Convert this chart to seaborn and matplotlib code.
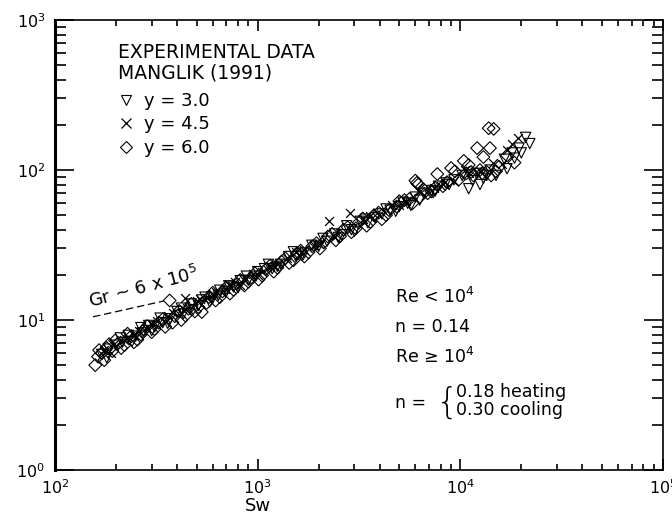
import pandas as pd
import matplotlib
matplotlib.use("Agg")
import matplotlib.pyplot as plt
import seaborn as sns
from matplotlib.lines import Line2D
from matplotlib.ticker import LogLocator, NullFormatter

tri_sw = [170, 185, 200, 215, 230, 250, 270, 290, 310, 340, 370, 400, 430, 470,
          510, 550, 600, 650, 700, 760, 820, 900, 980, 1080, 1180, 1300, 1420,
          1550, 1700, 1850, 2000, 2200, 2400, 2600, 2900, 3200, 3500, 3800, 4100,
          4500, 5000, 5500, 6000, 6600, 7200, 7800, 8500, 9300, 10200, 11000,
          12000, 13000, 14000, 15000, 16500, 18000, 19500, 21000, 22000,
          180, 210, 240, 265, 300, 330, 360, 420, 480, 530, 580, 640, 720, 800,
          880, 1000, 1130, 1250, 1500, 1650, 2100, 2500, 2750, 3000, 3400, 4300,
          4800, 5200, 5700, 6300, 7500, 8800, 11500, 12500, 13500, 17000, 18500, 20000]
tri_nu = [5.9, 6.4, 6.8, 7.1, 7.9, 7.8, 8.2, 9.2, 9.0, 9.6, 10.2, 11.4, 11.0, 12.8,
          12.5, 14.2, 14.0, 15.8, 15.5, 16.6, 18.3, 18.4, 19.6, 22.0, 22.0, 23.5, 26.5,
          26.4, 28.0, 31.5, 31.0, 33.5, 37.5, 37.0, 40.0, 45.5, 44.5, 48.0, 51.0,
          54.0, 57.0, 60.0, 66.0, 70.0, 73.0, 78.0, 82.0, 86.0, 92.0, 75.0,
          95.0, 88.0, 100.0, 92.0, 118.0, 130.0, 140.0, 165.0, 150.0,
          5.6, 7.6, 7.2, 8.9, 8.5, 10.3, 9.5, 12.0, 11.7, 13.6, 13.2, 14.6, 16.9, 16.4,
          19.6, 21.0, 23.5, 22.8, 28.5, 27.0, 35.0, 35.5, 42.5, 39.0, 47.0, 55.0,
          53.0, 61.0, 58.0, 63.0, 72.0, 80.0, 85.0, 80.0, 92.0, 102.0, 120.0, 130.0]

cross_sw = [175, 195, 220, 245, 280, 320, 360, 437, 450, 500, 560, 620, 690, 770,
            860, 950, 1050, 1150, 1270, 1400, 1550, 1700, 1900, 2260, 2870, 3300,
            3900, 4600, 5400, 6300, 7400, 8400, 9300, 10500, 12500, 14500, 17000, 19300,
            190, 230, 260, 300, 380, 420, 520, 600, 720, 820, 1000, 1200, 1600, 2000,
            2400, 3600, 5000, 7000, 8000, 11000, 16000, 18000]
cross_nu = [6.3, 6.9, 7.4, 8.0, 8.9, 9.8, 10.6, 14.0, 12.0, 13.4, 14.0, 15.4, 16.2, 17.8,
            18.6, 20.4, 21.0, 23.0, 24.0, 26.0, 28.5, 29.5, 31.5, 46.0, 52.0, 47.0,
            52.0, 58.0, 62.0, 72.0, 76.0, 83.0, 85.0, 100.0, 98.0, 112.0, 135.0, 163.0,
            6.0, 7.7, 8.4, 9.4, 11.2, 11.2, 13.8, 15.0, 17.0, 17.2, 20.0, 23.0, 27.3, 32.0,
            36.0, 49.0, 58.0, 70.0, 78.0, 96.0, 110.0, 150.0]

dia_sw = [158, 163, 170, 180, 192, 205, 220, 238, 255, 275, 300, 325, 350, 368,
          390, 420, 455, 490, 530, 575, 620, 670, 730, 790, 860, 930, 1010, 1100,
          1200, 1310, 1430, 1560, 1700, 1860, 2030, 2220, 2430, 2650, 2900, 3150,
          3450, 3750, 4100, 4450, 4850, 5300, 5800, 6100, 6300, 6900, 7500, 7700,
          8200, 9000, 9800, 10400, 10700, 11600, 12100, 12500, 13500, 13800, 14000,
          14600, 15500, 17000, 18500,
          165, 175, 185, 198, 212, 228, 245, 265, 285, 310, 340, 380, 410, 440,
          470, 510, 560, 600, 650, 700, 760, 820, 900, 970, 1050, 1150, 1250, 1370,
          1500, 1630, 1780, 1950, 2120, 2330, 2550, 2780, 3050, 3300, 3600, 3950,
          4300, 5000, 5600, 6000, 6200, 6600, 7200, 8600, 9400, 11000, 11300, 12800,
          13000, 14200, 15000]
dia_nu = [5.0, 5.7, 6.0, 6.5, 6.2, 7.0, 6.8, 7.8, 7.4, 8.6, 8.3, 9.6, 9.0, 13.5,
          10.6, 10.0, 11.9, 11.4, 11.3, 14.2, 13.5, 15.5, 15.0, 17.4, 17.0, 19.2, 18.6, 21.8,
          21.0, 24.5, 24.0, 27.8, 26.5, 31.0, 30.0, 36.0, 34.0, 40.0, 38.5, 44.5,
          42.5, 50.0, 47.0, 54.0, 57.0, 63.0, 60.0, 82.0, 66.0, 70.0, 76.0, 94.0,
          78.0, 103.0, 86.0, 115.0, 95.0, 92.0, 140.0, 100.0, 97.0, 190.0, 140.0,
          188.0, 105.0, 125.0, 112.0,
          6.3, 5.4, 6.9, 7.3, 6.5, 8.1, 7.1, 8.0, 9.1, 8.7, 10.1, 9.6, 11.5, 10.7,
          12.8, 12.2, 13.0, 15.2, 14.2, 16.5, 15.9, 18.5, 18.0, 20.5, 19.8, 23.0, 22.3, 25.8,
          25.0, 29.0, 28.3, 32.5, 33.0, 37.5, 36.2, 41.5, 40.8, 47.5, 45.0, 52.0,
          50.0, 62.0, 64.0, 85.0, 80.0, 74.0, 72.0, 83.0, 98.0, 108.0, 97.0, 95.0,
          122.0, 92.0, 98.0]

# Gr ~ 6 x 10^5 dashed guide
gr_sw = [154, 345]
gr_nu = [10.5, 13.4]

sns.set_style("ticks")
plt.rcParams["font.family"] = ["DejaVu Sans"]
plt.rcParams["mathtext.default"] = "regular"
plt.rcParams["text.color"] = "black"
plt.rcParams["legend.labelcolor"] = "black"

fig = plt.figure(figsize=(6.72, 5.19), dpi=100)
ax = fig.add_axes([55 / 672, 1 - 470 / 519, 608 / 672, 450 / 519])

kw = dict(facecolor="none", edgecolor="black", linewidth=0.8, ax=ax, legend=False)
sns.scatterplot(x=tri_sw, y=tri_nu, marker="v", s=55, **kw)
sns.scatterplot(x=dia_sw, y=dia_nu, marker="D", s=42, **kw)
sns.scatterplot(x=cross_sw, y=cross_nu, marker="x", color="black", s=40,
                linewidth=0.9, ax=ax, legend=False)
sns.lineplot(x=gr_sw, y=gr_nu, color="black", linestyle=(0, (6, 3)), linewidth=0.9, ax=ax)

ax.set_xscale("log")
ax.set_yscale("log")
ax.set_xlim(1e2, 1e5)
ax.set_ylim(1e0, 1e3)

for a in (ax.xaxis, ax.yaxis):
    a.set_major_locator(LogLocator(base=10, numticks=10))
    a.set_minor_locator(LogLocator(base=10, subs=range(2, 10), numticks=10))
    a.set_minor_formatter(NullFormatter())
ax.tick_params(axis="both", which="both", direction="in", top=True, right=True,
               colors="black", labelsize=11.5, width=1.2)
ax.tick_params(axis="x", which="major", length=8, pad=6)
ax.tick_params(axis="x", which="minor", length=4.5)
ax.tick_params(axis="y", which="major", length=14, pad=7)
ax.tick_params(axis="y", which="minor", length=8)
for side, sp in ax.spines.items():
    sp.set_color("black")
    sp.set_linewidth(2.2 if side == "left" else 1.2)

ax.set_xlabel("")
ax.set_ylabel("")
ax.text(0.333, -0.06, "Sw", transform=ax.transAxes, ha="center", va="top", fontsize=13)

# legend block: heading text plus marker entries
ax.text(0.104, (470 - 52) / 450, "EXPERIMENTAL DATA", transform=ax.transAxes,
        fontsize=13.5, va="center")
ax.text(0.104, (470 - 73) / 450, "MANGLIK (1991)", transform=ax.transAxes,
        fontsize=13.5, va="center")
handles = [Line2D([], [], marker="v", ls="none", mfc="none", mec="black", ms=7, mew=0.8),
           Line2D([], [], marker="x", ls="none", color="black", ms=6.5, mew=0.9),
           Line2D([], [], marker="D", ls="none", mfc="none", mec="black", ms=6, mew=0.8)]
ax.legend(handles, ["y = 3.0", "y = 4.5", "y = 6.0"], loc="upper left",
          bbox_to_anchor=(0.104, (470 - 92) / 450), frameon=False, fontsize=13,
          handletextpad=0.5, labelspacing=0.3, handlelength=0.9,
          borderpad=0, borderaxespad=0)

ax.text(0.052, 0.352, "Gr ~ 6 x 10$^5$", transform=ax.transAxes, fontsize=13,
        rotation=15, ha="left", va="bottom")

tx = (395 - 55) / 608
fs = 12.5
ax.text(tx, 0.384, "Re < 10$^4$", transform=ax.transAxes, fontsize=fs, va="center")
ax.text(tx, 0.318, "n = 0.14", transform=ax.transAxes, fontsize=fs, va="center")
ax.text(tx, 0.251, "Re \u2265 10$^4$", transform=ax.transAxes, fontsize=fs, va="center")
ax.text(tx, 0.149, "n =", transform=ax.transAxes, fontsize=fs, va="center")
ax.text(0.626, 0.149, "{", transform=ax.transAxes, fontsize=26, va="center",
        fontweight="light")
ax.text(0.66, 0.174, "0.18 heating", transform=ax.transAxes, fontsize=fs, va="center")
ax.text(0.66, 0.134, "0.30 cooling", transform=ax.transAxes, fontsize=fs, va="center")

fig.savefig("out.png", dpi=100)
